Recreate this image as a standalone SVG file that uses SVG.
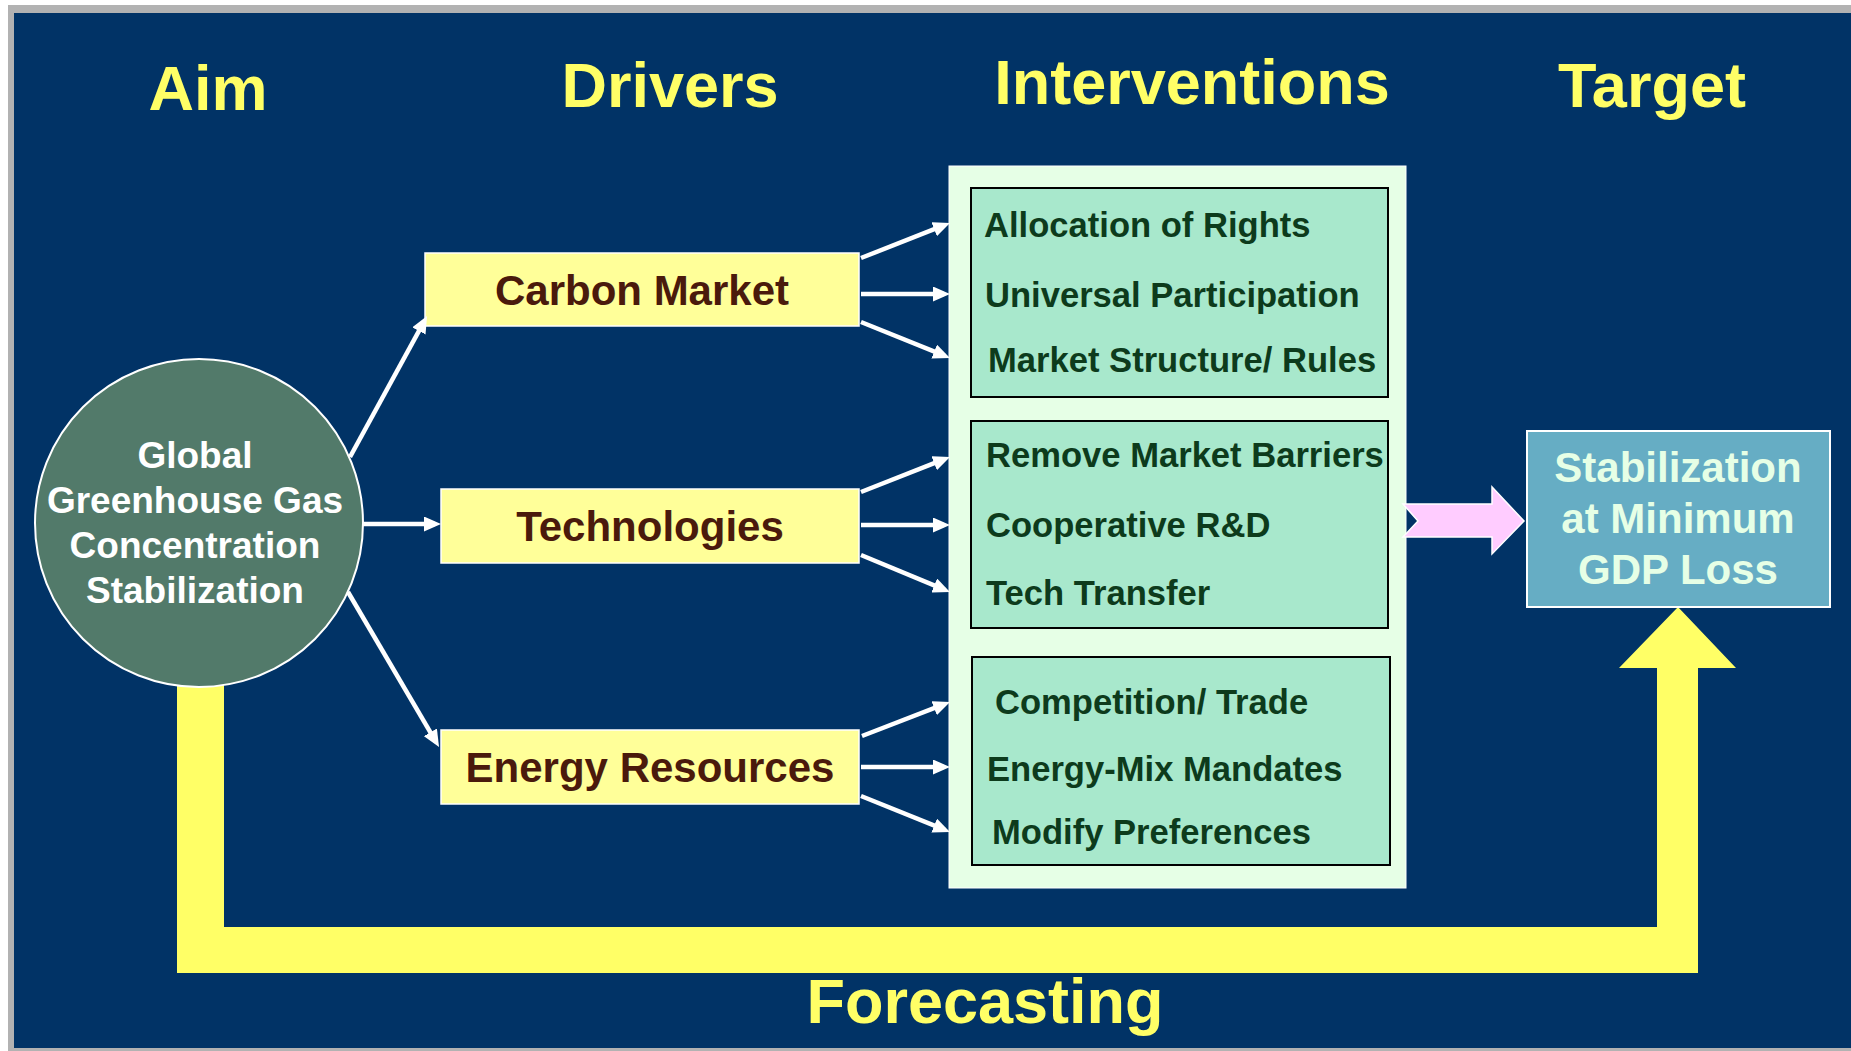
<svg xmlns="http://www.w3.org/2000/svg" width="1851" height="1051" viewBox="0 0 1851 1051">
  <style>
    text { font-family: "Liberation Sans", Arial, "Noto Sans", sans-serif; font-weight: bold; }
    .title { font-size: 63px; fill: #FFFF66; text-anchor: middle; }
    .driver rect { fill: #FFFF99; stroke: #FFFFFF; stroke-width: 1.5; }
    .driver text { font-size: 42px; fill: #4A1A0C; text-anchor: middle; }
    .group rect { fill: #A8E8CC; stroke: #000000; stroke-width: 2; }
    .item { font-size: 34.6px; fill: #0D3B1C; }
    .conn line { stroke: #FFFFFF; stroke-width: 4.5; marker-end: url(#head); }
  </style>
  <defs>
    <marker id="head" markerUnits="userSpaceOnUse" markerWidth="17" markerHeight="15" refX="11" refY="7.5" orient="auto">
      <path d="M0,0 L17,7.5 L0,15 Z" fill="#FFFFFF"/>
    </marker>
  </defs>

  <rect x="0" y="0" width="1851" height="1051" fill="#FFFFFF"/>
  <rect x="8" y="5" width="1843" height="1046" fill="#B2B2B2"/>
  <rect x="14" y="13" width="1837" height="1035" fill="#013366"/>

  <g id="titles">
    <text class="title" x="208" y="110">Aim</text>
    <text class="title" x="670" y="107">Drivers</text>
    <text class="title" x="1192" y="104">Interventions</text>
    <text class="title" x="1652" y="107">Target</text>
  </g>

  <g id="forecasting">
    <path d="M177,600 L177,973 L1698,973 L1698,668 L1736,668 L1678,607 L1619,668 L1657,668 L1657,927 L224,927 L224,600 Z" fill="#FFFF66"/>
    <text class="title" x="985" y="1023">Forecasting</text>
  </g>

  <g id="aim">
    <circle cx="199" cy="523" r="164" fill="#527A6A" stroke="#FFFFFF" stroke-width="2"/>
    <text x="195" y="468" font-size="37" fill="#FFFFFF" text-anchor="middle">Global</text>
    <text x="195" y="513" font-size="37" fill="#FFFFFF" text-anchor="middle">Greenhouse Gas</text>
    <text x="195" y="558" font-size="37" fill="#FFFFFF" text-anchor="middle">Concentration</text>
    <text x="195" y="603" font-size="37" fill="#FFFFFF" text-anchor="middle">Stabilization</text>
  </g>

  <g id="carbon-market" class="driver">
    <rect x="425" y="253" width="434" height="73"/>
    <text x="642" y="305">Carbon Market</text>
  </g>
  <g id="technologies" class="driver">
    <rect x="441" y="489" width="418" height="74"/>
    <text x="650" y="541">Technologies</text>
  </g>
  <g id="energy-resources" class="driver">
    <rect x="441" y="730" width="418" height="74"/>
    <text x="650" y="782">Energy Resources</text>
  </g>

  <g id="interventions">
    <rect x="949" y="166" width="457" height="722" fill="#E6FFE6" stroke="#FFFFFF" stroke-width="1"/>
    <g id="market-interventions" class="group">
      <rect x="971" y="188" width="417" height="209"/>
      <text class="item" x="984" y="237">Allocation of Rights</text>
      <text class="item" x="985" y="307">Universal Participation</text>
      <text class="item" x="988" y="372">Market Structure/ Rules</text>
    </g>
    <g id="tech-interventions" class="group">
      <rect x="971" y="421" width="417" height="207"/>
      <text class="item" x="986" y="467">Remove Market Barriers</text>
      <text class="item" x="986" y="537">Cooperative R&amp;D</text>
      <text class="item" x="986" y="605">Tech Transfer</text>
    </g>
    <g id="energy-interventions" class="group">
      <rect x="972" y="657" width="418" height="208"/>
      <text class="item" x="995" y="714">Competition/ Trade</text>
      <text class="item" x="987" y="781">Energy-Mix Mandates</text>
      <text class="item" x="992" y="844">Modify Preferences</text>
    </g>
  </g>

  <g id="target">
    <rect x="1527" y="431" width="303" height="176" fill="#66ADC4" stroke="#FFFFFF" stroke-width="2"/>
    <text x="1678" y="482" font-size="42" fill="#E6FFE6" text-anchor="middle">Stabilization</text>
    <text x="1678" y="533" font-size="42" fill="#E6FFE6" text-anchor="middle">at Minimum</text>
    <text x="1678" y="584" font-size="42" fill="#E6FFE6" text-anchor="middle">GDP Loss</text>
  </g>

  <g id="connectors" class="conn">
    <line x1="350" y1="457" x2="424.2" y2="321.3"/>
    <line x1="363" y1="524" x2="435" y2="524"/>
    <line x1="348" y1="592" x2="436" y2="741.8"/>

    <line x1="861" y1="258" x2="944.4" y2="225.2"/>
    <line x1="861" y1="294" x2="944" y2="294"/>
    <line x1="861" y1="322" x2="944.4" y2="355.7"/>

    <line x1="861" y1="492" x2="944.4" y2="459.2"/>
    <line x1="861" y1="525" x2="944" y2="525"/>
    <line x1="861" y1="555" x2="944.4" y2="589.7"/>

    <line x1="862" y1="736" x2="944.4" y2="704.2"/>
    <line x1="861" y1="767" x2="944" y2="767"/>
    <line x1="861" y1="796" x2="944.4" y2="829.7"/>

    <path id="to-target" d="M1403,504 L1492,504 L1492,487 L1524,521 L1492,554 L1492,537 L1403,537 L1418,521 Z" fill="#FFCCFF" stroke="#FFFFFF" stroke-width="1.5"/>
  </g>
</svg>
